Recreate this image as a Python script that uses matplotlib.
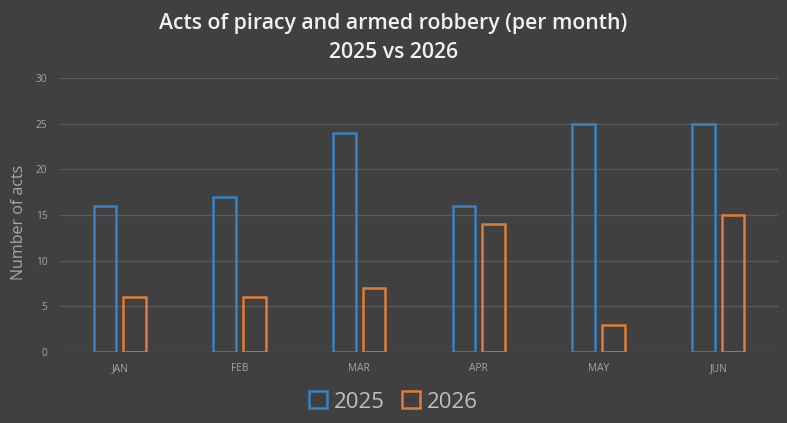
import matplotlib.pyplot as plt
import numpy as np

months = ['JAN', 'FEB', 'MAR', 'APR', 'MAY', 'JUN']
acts_2025 = [16, 17, 24, 16, 25, 25]
acts_2026 = [6, 6, 7, 14, 3, 15]
yticks = [0, 5, 10, 15, 20, 25, 30]

bg = '#404040'
blue = '#3a80c4'
orange = '#e07b39'
txt = '#a6a6a6'

plt.rcParams['font.family'] = ['Open Sans', 'DejaVu Sans']

fig = plt.figure(figsize=(7.87, 4.23), dpi=100, facecolor=bg)
ax = fig.add_axes([60 / 787, 1 - 352 / 423, 718 / 787, 274 / 423], facecolor=bg)

x = np.arange(len(months))
w = 0.19
off = 0.125
ax.bar(x - off, acts_2025, w, facecolor='none', edgecolor=blue, linewidth=1.8, label='2025')
ax.bar(x + off, acts_2026, w, facecolor='none', edgecolor=orange, linewidth=1.8, label='2026')

ax.set_xlim(-0.5, len(months) - 0.5)
ax.set_ylim(0, 30)
ax.set_yticks(yticks)
ax.set_xticks(x)
ax.set_xticklabels(months)
ax.tick_params(axis='both', length=0, colors=txt, labelsize=7.3)
ax.tick_params(axis='x', pad=8)
ax.tick_params(axis='y', pad=9)
ax.yaxis.grid(True, color='#5a5a5a', linewidth=0.9)
ax.set_axisbelow(True)
for s in ax.spines.values():
    s.set_visible(False)

ax.set_ylabel('Number of acts', color=txt, fontsize=11.5)
ax.yaxis.set_label_coords(-0.046, 0.474)

fig.text(0.5, 1 - 24 / 423, 'Acts of piracy and armed robbery (per month)', ha='center', va='center',
         color='#f0f0f0', fontsize=15.3, fontweight='semibold')
fig.text(0.5, 1 - 53 / 423, '2025 vs 2026', ha='center', va='center',
         color='#f0f0f0', fontsize=15.3, fontweight='semibold')

leg = fig.legend(loc='center', bbox_to_anchor=(0.5, 1 - 402 / 423), ncol=2, frameon=False,
                 fontsize=16, handlelength=0.8, handleheight=0.8, handletextpad=0.3,
                 columnspacing=0.8)
for t in leg.get_texts():
    t.set_color('#bfbfbf')

fig.savefig('out.png', dpi=100, facecolor=bg)
